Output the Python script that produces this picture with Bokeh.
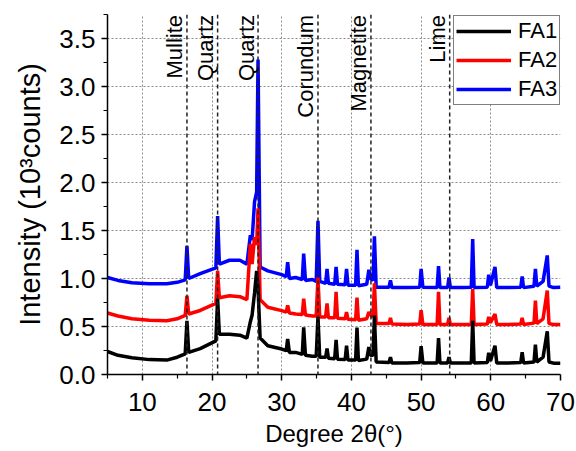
from math import pi
from bokeh.plotting import figure
from bokeh.models import FixedTicker, Span, Legend, LegendItem, PrintfTickFormatter, ColumnDataSource
from bokeh.core.properties import value
from bokeh.embed import file_html
from bokeh.resources import INLINE

# ---------------- data ----------------
two_theta = [5.0, 6.5, 8.5, 11.0, 13.5, 15.0, 16.15, 16.4, 16.65, 18.3, 20.55, 20.8, 21.05,
             22.5, 24.0, 25.0, 25.5, 25.75, 26.1, 26.4, 26.6, 26.9, 28.0, 30.0,
             30.65, 30.85, 31.1, 32.0, 32.95, 33.15, 33.4, 34.4, 34.95, 35.2, 35.45,
             36.3, 36.5, 36.7, 37.6, 37.8, 38.0, 39.1, 39.3, 39.5, 40.6, 40.8, 41.0,
             42.2, 42.5, 42.75, 43.1, 43.3, 43.55, 45.4, 45.6, 45.8, 48.0,
             49.8, 50.0, 50.25, 52.3, 52.5, 52.7, 53.8, 54.0, 54.2, 56.0,
             57.2, 57.4, 57.6, 59.5, 59.7, 59.95, 60.6, 60.85, 62.5,
             64.3, 64.5, 64.7, 66.2, 66.4, 66.6, 67.5, 68.1, 68.35, 69.0, 70.0]

fa1 = [0.24, 0.20, 0.175, 0.155, 0.15, 0.18, 0.215, 0.56, 0.23, 0.27, 0.35, 0.79, 0.42,
       0.42, 0.41, 0.38, 0.55, 0.62, 0.85, 1.08, 0.90, 0.38, 0.30, 0.265,
       0.25, 0.37, 0.23, 0.23, 0.21, 0.49, 0.20, 0.19, 0.19, 0.60, 0.18,
       0.18, 0.27, 0.17, 0.165, 0.36, 0.16, 0.155, 0.30, 0.15, 0.15, 0.49, 0.145,
       0.16, 0.285, 0.20, 0.20, 0.615, 0.13, 0.125, 0.18, 0.12, 0.12,
       0.125, 0.295, 0.12, 0.12, 0.38, 0.12, 0.12, 0.18, 0.12, 0.12,
       0.12, 0.56, 0.12, 0.125, 0.226, 0.14, 0.30, 0.12, 0.12,
       0.125, 0.233, 0.12, 0.13, 0.31, 0.13, 0.18, 0.45, 0.13, 0.118, 0.118]

fa2 = [0.64, 0.61, 0.58, 0.565, 0.56, 0.58, 0.615, 0.82, 0.63, 0.667, 0.74, 1.08, 0.80,
       0.82, 0.81, 0.78, 1.36, 1.15, 1.43, 1.35, 1.73, 0.78, 0.70, 0.665,
       0.65, 0.72, 0.64, 0.63, 0.625, 0.79, 0.62, 0.61, 0.61, 1.01, 0.60,
       0.60, 0.74, 0.59, 0.59, 0.86, 0.585, 0.58, 0.65, 0.575, 0.57, 0.80, 0.565,
       0.58, 0.65, 0.62, 0.60, 0.95, 0.53, 0.53, 0.59, 0.525, 0.52,
       0.525, 0.67, 0.52, 0.52, 0.86, 0.52, 0.52, 0.59, 0.52, 0.52,
       0.52, 0.89, 0.52, 0.525, 0.60, 0.54, 0.63, 0.52, 0.52,
       0.525, 0.59, 0.52, 0.535, 0.77, 0.53, 0.58, 0.875, 0.53, 0.52, 0.52]

fa3 = [1.01, 0.98, 0.955, 0.945, 0.945, 0.96, 0.985, 1.34, 1.00, 1.05, 1.11, 1.65, 1.15,
       1.19, 1.19, 1.15, 1.45, 1.40, 1.80, 1.90, 3.28, 1.12, 1.08, 1.04,
       1.02, 1.17, 1.00, 1.01, 0.99, 1.26, 0.98, 0.99, 0.97, 1.60, 0.97,
       0.95, 1.10, 0.95, 0.94, 1.12, 0.94, 0.935, 1.10, 0.93, 0.93, 1.30, 0.925,
       0.94, 1.09, 1.00, 0.98, 1.44, 0.91, 0.91, 0.98, 0.905, 0.905,
       0.91, 1.10, 0.91, 0.905, 1.13, 0.905, 0.905, 1.01, 0.905, 0.905,
       0.91, 1.41, 0.905, 0.91, 1.04, 0.93, 1.12, 0.905, 0.905,
       0.91, 1.02, 0.905, 0.92, 1.10, 0.92, 0.97, 1.24, 0.92, 0.905, 0.91]

series_names = ["FA1", "FA2", "FA3"]
series_colors = ["#000000", "#ff0000", "#0000ff"]

phase_names = ["Mullite", "Quartz", "Quartz", "Corundum", "Magnetite", "Lime"]
phase_pos = [16.4, 20.8, 26.6, 35.2, 42.8, 54.1]

x_ticks = [10, 20, 30, 40, 50, 60, 70]
x_minor = [5, 15, 25, 35, 45, 55, 65]
y_ticks = [0.0, 0.5, 1.0, 1.5, 2.0, 2.5, 3.0, 3.5]
y_minor = [0.25, 0.75, 1.25, 1.75, 2.25, 2.75, 3.25, 3.75]

FONT = "Liberation Sans"

# ---------------- figure ----------------
p = figure(width=576, height=451, x_range=(5, 70), y_range=(0, 3.75),
           output_backend="svg", toolbar_location=None,
           min_border_left=107, min_border_right=16, min_border_top=14, min_border_bottom=77)
p.outline_line_color = None
p.background_fill_color = "white"
p.border_fill_color = "white"

# grids
p.xgrid.ticker = FixedTicker(ticks=x_ticks[:-1])
p.ygrid.ticker = FixedTicker(ticks=y_ticks[1:])
for g in (p.xgrid, p.ygrid):
    g.grid_line_color = "#8a8a8a"
    g.grid_line_dash = "2 2"
    g.grid_line_width = 1

# phase marker lines
for xp in phase_pos:
    p.add_layout(Span(location=xp, dimension="height", line_color="#222222",
                      line_dash="4 3", line_width=1.5))

# series (FA3 drawn first so FA1 sits on top)
src = ColumnDataSource(dict(x=two_theta, fa1=fa1, fa2=fa2, fa3=fa3))
renderers = {}
for name, col, key in reversed(list(zip(series_names, series_colors, ["fa1", "fa2", "fa3"]))):
    renderers[name] = p.line("x", key, source=src, line_color=col, line_width=3.5)

# phase labels
lab_src = ColumnDataSource(dict(x=phase_pos, y=[3.745] * len(phase_pos), t=phase_names))
p.text("x", "y", text="t", source=lab_src, angle=pi / 2, text_align="right",
       text_baseline="alphabetic", x_offset=-12, y_offset=0, text_font=value(FONT),
       text_font_size="22px", text_color="black")

# axes
p.xaxis.ticker = FixedTicker(ticks=x_ticks, minor_ticks=x_minor)
p.yaxis.ticker = FixedTicker(ticks=y_ticks, minor_ticks=y_minor)
p.yaxis.formatter = PrintfTickFormatter(format="%.1f")
p.xaxis.axis_label = "Degree 2\u03b8(\u00b0)"
p.yaxis.axis_label = "Intensity (10\u00b3counts)"
for ax in (p.xaxis[0], p.yaxis[0]):
    ax.axis_line_color = "black"
    ax.axis_line_width = 1.5
    ax.major_tick_line_color = "black"
    ax.minor_tick_line_color = "black"
    ax.major_tick_line_width = 1.5
    ax.minor_tick_line_width = 1.2
    ax.major_tick_in = 0
    ax.major_tick_out = 6
    ax.minor_tick_in = 0
    ax.minor_tick_out = 4
    ax.major_label_text_font = FONT
    ax.major_label_text_font_size = "26px"
    ax.major_label_text_color = "black"
    ax.axis_label_text_font = FONT
    ax.axis_label_text_font_style = "normal"
    ax.axis_label_text_color = "black"
p.xaxis.major_label_standoff = 12
p.xaxis.axis_label_standoff = 6
p.xaxis.axis_label_text_font_size = "24px"
p.yaxis.major_label_standoff = 6
p.yaxis.axis_label_standoff = 10
p.yaxis.axis_label_text_font_size = "29px"

# legend
legend = Legend(items=[LegendItem(label=n, renderers=[renderers[n]]) for n in series_names],
                location=(346, 269), orientation="vertical",
                border_line_color="black", border_line_width=1.5,
                background_fill_color="white", background_fill_alpha=1.0,
                label_text_font=FONT, label_text_font_size="22px", label_text_color="black",
                glyph_width=55, glyph_height=24, label_height=24, label_width=20, spacing=3,
                padding=2, margin=0, label_standoff=7)
p.add_layout(legend)

open("out.html", "w").write(file_html(p, INLINE))
